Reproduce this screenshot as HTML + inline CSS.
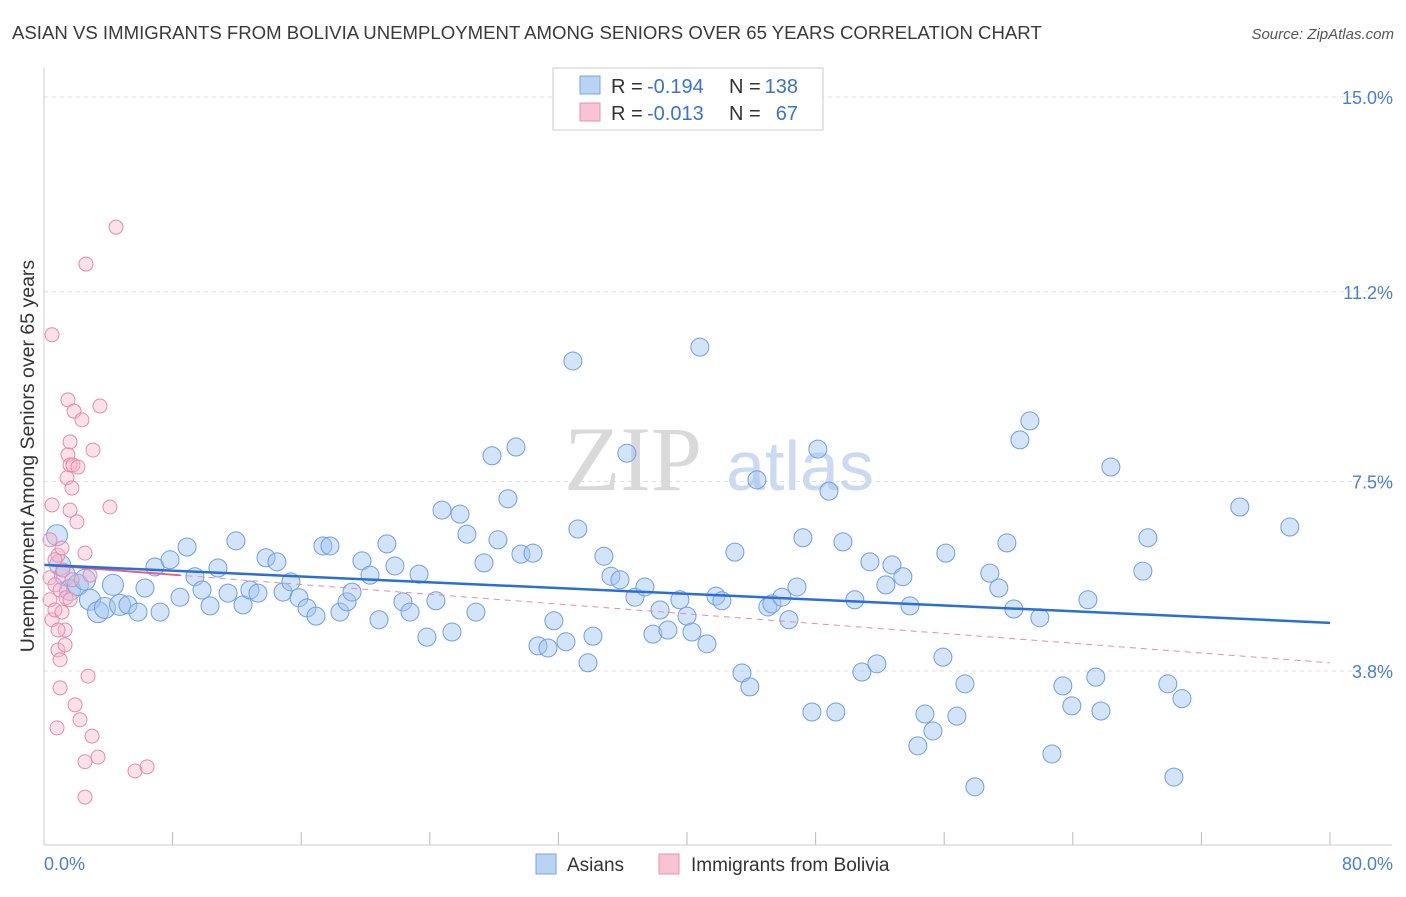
<!DOCTYPE html>
<html><head><meta charset="utf-8"><style>
body{margin:0;background:#fff;font-family:"Liberation Sans",sans-serif;}
svg text{font-family:"Liberation Sans",sans-serif;}
</style></head><body>
<svg id="chart" width="1406" height="892" xmlns="http://www.w3.org/2000/svg">
<text x="12" y="39" font-size="18.6" fill="#3a3a3a">ASIAN VS IMMIGRANTS FROM BOLIVIA UNEMPLOYMENT AMONG SENIORS OVER 65 YEARS CORRELATION CHART</text>
<text x="1394" y="39" font-size="15" fill="#555" text-anchor="end" font-style="italic">Source: ZipAtlas.com</text>
<g id="grid"></g>
<g>
<text x="633" y="490" font-size="92" fill="#d9d9d9" text-anchor="middle" font-family="Liberation Serif" style="font-family:'Liberation Serif',serif">ZIP</text>
<text x="800" y="490" font-size="70" fill="#c9daf2" text-anchor="middle">atlas</text>
</g>
<g id="pts"></g>
<g id="axes"></g>
<text transform="translate(34,456) rotate(-90)" font-size="19.5" fill="#333" text-anchor="middle">Unemployment Among Seniors over 65 years</text>
<g>
<rect x="553" y="68" width="270" height="62" fill="#fff" stroke="#ccc"/>
<rect x="580" y="76" width="20" height="18" fill="#b9d3f3" stroke="#7aa5e0"/>
<rect x="580" y="103" width="20" height="18" fill="#f8c3d3" stroke="#e890ad"/>
<text x="611" y="93" font-size="20" fill="#333">R =</text>
<text x="647" y="93" font-size="20" fill="#3b73c8">-0.194</text>
<text x="729" y="93" font-size="20" fill="#333">N =</text>
<text x="798" y="93" font-size="20" fill="#3b73c8" text-anchor="end">138</text>
<text x="611" y="120" font-size="20" fill="#333">R =</text>
<text x="647" y="120" font-size="20" fill="#3b73c8">-0.013</text>
<text x="729" y="120" font-size="20" fill="#333">N =</text>
<text x="798" y="120" font-size="20" fill="#3b73c8" text-anchor="end">67</text>
</g>
<g>
<rect x="536" y="854" width="20" height="20" fill="#b9d3f3" stroke="#7aa5e0"/>
<text x="567" y="871" font-size="19" fill="#333">Asians</text>
<rect x="659" y="854" width="20" height="20" fill="#f8c3d3" stroke="#e890ad"/>
<text x="691" y="871" font-size="19" fill="#333">Immigrants from Bolivia</text>
</g>
</svg>
<script>
const yTicks=[15.0,11.2,7.5,3.8];
const yTickLabels=["15.0%","11.2%","7.5%","3.8%"];
const xTickCount=10;
const xEndLabels=["0.0%","80.0%"];
const asianX=[0.81,1.0,1.3,1.62,2.11,2.55,2.86,3.36,3.79,4.29,4.73,5.22,5.85,6.28,6.9,7.22,7.84,8.46,8.9,9.39,9.83,10.33,10.82,11.45,11.94,12.38,12.81,13.31,13.81,14.49,14.87,15.36,15.86,16.36,16.92,17.35,17.79,18.41,18.85,19.16,19.78,20.28,20.84,21.33,21.83,22.33,22.77,23.33,23.82,24.38,24.76,25.38,25.88,26.31,26.87,27.37,27.87,28.24,28.86,29.67,29.36,30.42,30.73,31.35,31.72,32.47,32.9,33.21,33.84,34.15,34.83,35.27,35.83,36.26,36.76,37.38,37.88,38.32,38.81,39.56,40.0,40.31,40.8,41.24,41.8,42.17,42.98,43.42,43.91,44.35,45.03,45.28,45.9,46.34,46.84,47.21,47.77,48.14,48.83,49.26,49.7,50.44,50.88,51.38,51.81,52.37,52.75,53.43,53.87,54.36,54.8,55.3,55.92,56.1,56.79,57.29,57.91,58.84,59.4,59.9,60.33,60.71,61.33,61.95,62.7,63.38,63.94,64.94,65.43,65.75,66.37,68.36,68.67,69.91,70.29,70.79,74.39,77.5];
const asianY=[6.45,5.87,5.67,5.38,5.48,5.58,5.19,4.95,5.03,5.48,5.09,5.09,4.95,5.42,5.83,4.95,5.97,5.24,6.22,5.64,5.38,5.07,5.81,5.32,6.34,5.09,5.38,5.32,6.01,5.93,5.34,5.54,5.23,5.03,4.87,6.24,6.24,4.95,5.15,5.34,5.95,5.67,4.8,6.28,5.85,5.15,4.95,5.69,4.46,5.17,6.94,4.56,6.86,6.47,4.95,5.91,8.0,6.36,7.16,6.08,8.17,6.1,4.29,4.25,4.78,4.37,9.85,6.57,3.96,4.48,6.04,5.65,5.58,8.05,5.24,5.44,4.52,4.99,4.6,5.19,4.87,4.56,10.12,4.33,5.26,5.17,6.12,3.76,3.49,7.53,5.05,5.11,5.24,4.8,5.44,6.4,3.0,8.13,7.31,3.0,6.32,5.19,3.78,5.93,3.94,5.48,5.87,5.64,5.07,2.34,2.96,2.63,4.07,6.1,2.92,3.55,1.54,5.71,5.42,6.3,5.01,8.31,8.68,4.84,2.18,3.51,3.12,5.19,3.68,3.02,7.78,5.75,6.4,3.55,1.73,3.26,7.0,6.61];
const bolX=[0.5,0.5,0.37,0.37,0.37,0.5,0.68,0.68,0.87,1.0,0.87,1.0,0.81,1.0,1.12,1.18,1.31,1.43,1.49,1.49,1.62,1.62,1.62,1.74,1.8,1.87,1.93,2.05,2.11,2.24,2.36,2.55,2.61,2.74,2.86,2.99,3.05,3.36,3.48,4.1,4.48,2.55,2.55,5.66,6.41,1.31,1.12,1.37,1.62,1.74,0.68,0.87];
const bolY=[10.36,7.04,6.36,5.62,5.19,4.8,5.48,4.99,6.06,5.38,4.21,3.47,2.69,4.02,6.2,5.77,4.6,7.57,8.02,9.09,7.82,6.94,8.27,7.37,7.82,8.87,3.14,6.71,7.78,2.85,8.7,6.1,11.74,3.7,5.67,2.53,8.11,2.12,8.97,7.0,12.46,1.34,2.03,1.85,1.93,4.31,4.95,5.23,5.19,5.58,5.97,4.6];
const asianTrend=[5.87,4.74];
const bolTrend=[5.87,3.96];
const NS="http://www.w3.org/2000/svg";
function X(v){return 44+v*(1330-44)/80;}
function Y(v){return 97+(15-v)*51.25;}
function mk(tag,attrs,parent){const e=document.createElementNS(NS,tag);for(const k in attrs)e.setAttribute(k,attrs[k]);parent.appendChild(e);return e;}
const grid=document.getElementById('grid'),axes=document.getElementById('axes'),pts=document.getElementById('pts');
yTicks.forEach((t,i)=>{
 const l=mk('line',{x1:44,x2:1392,y1:Y(t),y2:Y(t),stroke:'#ddd','stroke-dasharray':'4,4'},grid);
 
 
 const tx=mk('text',{x:1393,y:Y(t)+7,'font-size':18,fill:'#4a7fd0','text-anchor':'end'},axes);
 tx.textContent=yTickLabels[i];
 
 
});
mk('line',{x1:44,x2:44,y1:68,y2:845,stroke:'#ccc'},axes);
mk('line',{x1:44,x2:1392,y1:845,y2:845,stroke:'#ccc'},axes);
for(let i=1;i<=xTickCount;i++){
 const t=mk('line',{x1:X(i*8),x2:X(i*8),y1:832,y2:845,stroke:'#bbb'},axes);
 
 
}
const xl0=mk('text',{x:44,y:870,'font-size':18,fill:'#4a7fd0'},axes);xl0.textContent=xEndLabels[0];


const xl1=mk('text',{x:1393,y:870,'font-size':18,fill:'#4a7fd0','text-anchor':'end'},axes);xl1.textContent=xEndLabels[1];


asianX.forEach((x,i)=>{
 const c=mk('circle',{cx:X(x),cy:Y(asianY[i]),r:(x<5?10.5:9),fill:'rgba(160,196,240,0.45)',stroke:'#6f9fe0','stroke-width':1},pts);
 
 
});
bolX.forEach((x,i)=>{
 const c=mk('circle',{cx:X(x),cy:Y(bolY[i]),r:7,fill:'rgba(246,180,202,0.4)',stroke:'#e88aab','stroke-width':1},pts);
 
 
});
const pd=mk('line',{x1:X(0),y1:Y(bolTrend[0]),x2:X(80),y2:Y(bolTrend[1]),stroke:'#e88aab','stroke-width':1,'stroke-dasharray':'6,5'},pts);


const ps=mk('line',{x1:X(0),y1:Y(bolTrend[0]),x2:X(8.5),y2:Y(bolTrend[0]+(bolTrend[1]-bolTrend[0])*8.5/80),stroke:'#e0608a','stroke-width':2},pts);


const at=mk('line',{x1:X(0),y1:Y(asianTrend[0]),x2:X(80),y2:Y(asianTrend[1]),stroke:'#2a6fd6','stroke-width':2.5},pts);


</script>
</body></html>
